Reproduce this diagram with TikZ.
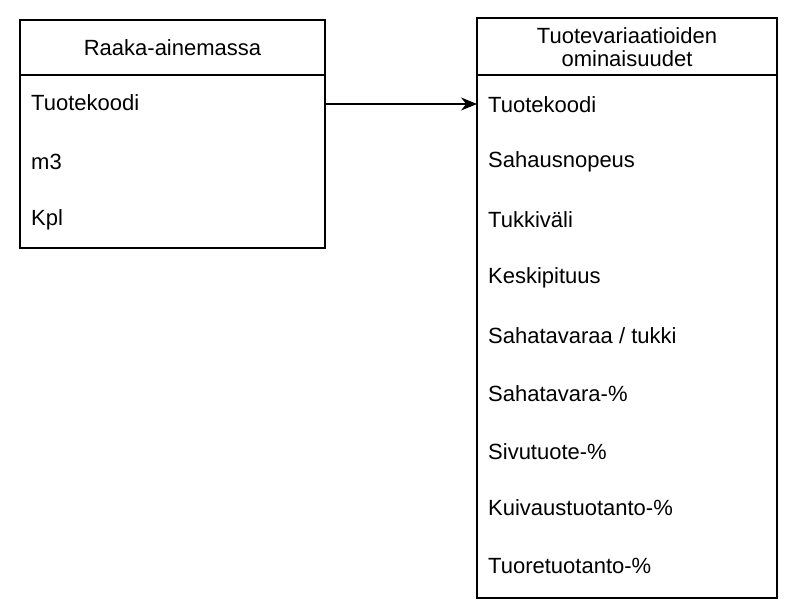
\documentclass[tikz,border=0pt]{standalone}
\usepackage{fontspec}
\usetikzlibrary{arrows.meta}
\setmainfont{Liberation Sans}
\begin{document}
\begin{tikzpicture}[x=1pt,y=-1pt,
  box/.style={draw,line width=1.4pt},
  item/.style={anchor=west,inner sep=0pt,font=\fontsize{22}{26}\selectfont},
  head/.style={inner sep=0pt,font=\fontsize{22}{23}\selectfont,align=center}]
\useasboundingbox (0,0) rectangle (804,615);
\draw[box] (20,20) rectangle (325,248);
\draw[line width=1.4pt] (20,75) -- (325,75);
\node[head] (lh) at (172.5,48) {Raaka-ainemassa};
\node[item] (l1) at (31,103) {Tuotekoodi};
\node[item] (l2) at (31,162) {m3};
\node[item] (l3) at (31,220) {Kpl};
\draw[box] (477,18) rectangle (777,598);
\draw[line width=1.4pt] (477,75) -- (777,75);
\node[head] (rh) at (627,47) {Tuotevariaatioiden\\ominaisuudet};
\node[item] (r1) at (488,105) {Tuotekoodi};
\node[item] (r2) at (488,162) {Sahausnopeus};
\node[item] (r3) at (488,220) {Tukkiväli};
\node[item] (r4) at (488,278) {Keskipituus};
\node[item] (r5) at (488,336) {Sahatavaraa / tukki};
\node[item] (r6) at (488,394) {Sahatavara-\%};
\node[item] (r7) at (488,452) {Sivutuote-\%};
\node[item] (r8) at (488,508) {Kuivaustuotanto-\%};
\node[item] (r9) at (488,566) {Tuoretuotanto-\%};
\coordinate (a) at (325,104);
\coordinate (b) at (477,104);
\draw[line width=1.4pt,-{Stealth[length=16pt,width=13pt]}] (a) -- (b);
\end{tikzpicture}
\end{document}
